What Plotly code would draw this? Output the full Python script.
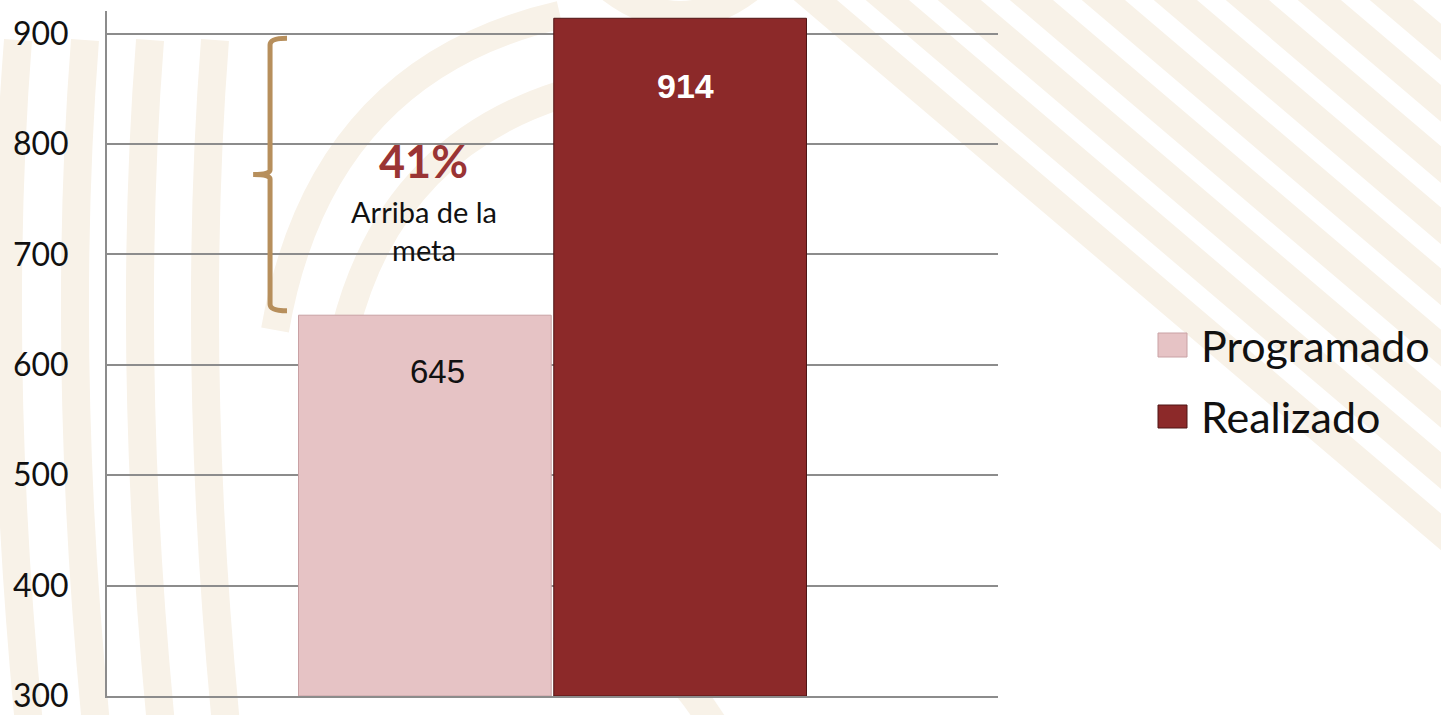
import math
import plotly.graph_objects as go

# data
categoria = ["Total"]
series = ["Programado", "Realizado"]
programado = [645]
realizado = [914]
colores = {"Programado": "#e6c3c5", "Realizado": "#8c2929"}
bordes = {"Programado": "#c9a1a4", "Realizado": "#4f1414"}
y_ticks = [300, 400, 500, 600, 700, 800, 900]

valores = {"Programado": programado, "Realizado": realizado}
pct = math.floor((realizado[0] - programado[0]) / programado[0] * 100)

W, H = 1441, 715
ML, MR, MT, MB = 107, 443, 11, 19
PW, PH = W - ML - MR, H - MT - MB

fig = go.Figure()

for name in series:
    fig.add_trace(
        go.Bar(
            x=categoria,
            y=[v - y_ticks[0] for v in valores[name]],
            base=y_ticks[0],
            name=name,
            marker=dict(color=colores[name], line=dict(color=bordes[name], width=1)),
            showlegend=False,
            hoverinfo="skip",
        )
    )

# value labels inside the bars
fig.add_annotation(
    x=categoria[0], y=programado[0], xref="x", yref="y",
    text=str(programado[0]), showarrow=False,
    xshift=-115, yshift=-56,
    font=dict(family="Liberation Sans, Arial", size=33, color="#111111"),
)
fig.add_annotation(
    x=categoria[0], y=realizado[0], xref="x", yref="y",
    text="<b>%d</b>" % realizado[0], showarrow=False,
    xshift=133, yshift=-68,
    font=dict(family="Liberation Sans, Arial", size=34, color="white"),
)

# brace between the two levels
b_lo = programado[0] + 4
b_hi = realizado[0] - 18
b_mid = (b_lo + b_hi) / 2
xa, xb, xc = 0.183, 0.202, 0.164
brace = (
    f"M {xb},{b_hi} Q {xa},{b_hi} {xa},{b_hi - 6} "
    f"L {xa},{b_mid + 4} Q {xa},{b_mid} {xc},{b_mid} "
    f"Q {xa},{b_mid} {xa},{b_mid - 4} "
    f"L {xa},{b_lo + 6} Q {xa},{b_lo} {xb},{b_lo}"
)
fig.add_shape(
    type="path", path=brace, xref="paper", yref="y",
    line=dict(color="#b78f5c", width=5), layer="above",
)

fig.add_annotation(
    x=0.3547, y=785, xref="paper", yref="y",
    text="<b>%d%%</b>" % pct, showarrow=False,
    font=dict(family="Lato", size=45, color="#9a3434"),
)
fig.add_annotation(
    x=0.3557, y=722, xref="paper", yref="y",
    text="Arriba de la<br>meta", showarrow=False,
    font=dict(family="Lato", size=29, color="#111111"),
)

# faint decorative background stripes (pixel coordinates, converted below)
bg_paths = []
for k in range(10):
    x0 = 780 + 72 * k
    bg_paths.append(f"M {x0},-30 L {x0 + 900},735")
for x0 in (18, 85, 150, 215):
    bg_paths.append(f"M {x0},40 Q {x0 - 25},360 {x0 + 12},735")
bg_paths += [
    "M 275,330 Q 320,70 560,15",
    "M 345,330 Q 390,150 560,95",
    "M 600,-20 Q 680,50 760,-20",
    "M 560,650 Q 640,600 720,735",
]

for p in bg_paths:
    out = []
    for t in p.split():
        if "," in t:
            px, py = (float(s) for s in t.split(","))
            out.append(f"{(px - ML) / PW:.4f},{(H - MB - py) / PH:.4f}")
        else:
            out.append(t)
    fig.add_shape(
        type="path", path=" ".join(out), xref="paper", yref="paper",
        line=dict(color="#f8f2e8", width=28), layer="below",
    )

# legend drawn by hand so the swatches can be large
leg_px = [(333, 357), (405, 428)]
for name, (top, bot) in zip(series, leg_px):
    fig.add_shape(
        type="rect", xref="paper", yref="paper",
        x0=(1158 - ML) / PW, x1=(1187 - ML) / PW,
        y0=(H - MB - bot) / PH, y1=(H - MB - top) / PH,
        fillcolor=colores[name], line=dict(color=bordes[name], width=1),
    )
    fig.add_annotation(
        x=(1199 - ML) / PW, y=(H - MB - (top + bot) / 2) / PH,
        xref="paper", yref="paper",
        text=name, showarrow=False, xanchor="left", yanchor="middle",
        font=dict(family="Lato", size=43, color="#111111"),
    )

fig.update_layout(
    width=W, height=H,
    margin=dict(l=ML, r=MR, t=MT, b=MB, autoexpand=False),
    paper_bgcolor="white", plot_bgcolor="rgba(0,0,0,0)",
    barmode="group", bargap=0.427, bargroupgap=0.01,
    font=dict(family="Lato", color="#111111"),
)
fig.update_xaxes(
    showticklabels=False, showgrid=False, zeroline=False, automargin=False,
    showline=True, linecolor="#8c8c8c", linewidth=2,
)
fig.update_yaxes(
    range=[300, 920.6], tickvals=y_ticks, automargin=False,
    showgrid=True, gridcolor="#8c8c8c", gridwidth=2,
    showline=True, linecolor="#8c8c8c", linewidth=2,
    zeroline=False, ticklabelstandoff=30, ticklabeloverflow="allow",
    tickfont=dict(family="Lato", size=32, color="#111111"),
)

fig.write_html(
    "out.html",
    config={"displayModeBar": False},
    post_script="document.body.style.margin='0';",
)
